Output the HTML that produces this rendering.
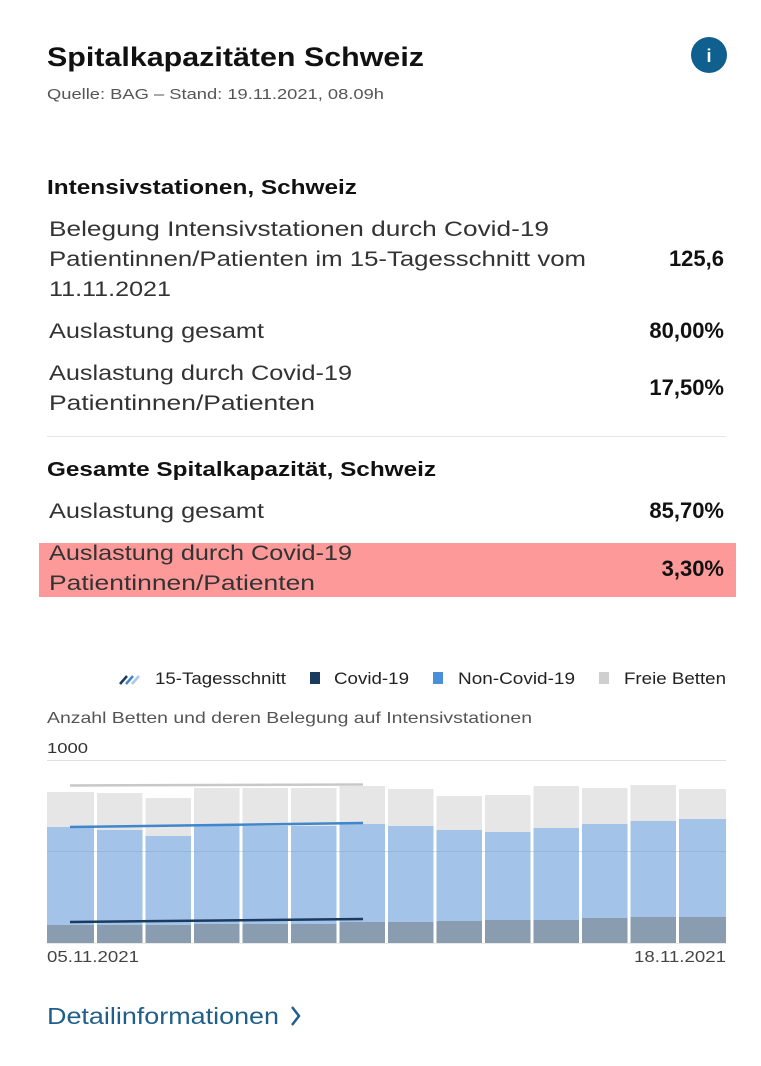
<!DOCTYPE html>
<html><head><meta charset="utf-8"><style>
html,body{margin:0;padding:0;background:#fff;}
svg{display:block;font-family:"Liberation Sans",sans-serif;}
</style></head><body>
<svg width="761" height="1066" viewBox="0 0 761 1066" xmlns="http://www.w3.org/2000/svg">
<rect width="761" height="1066" fill="#fff"/>
<text x="47" y="66" font-size="27" font-weight="bold" fill="#111" textLength="377" lengthAdjust="spacingAndGlyphs">Spitalkapazitäten Schweiz</text>
<text x="47" y="99" font-size="15" fill="#555" textLength="337" lengthAdjust="spacingAndGlyphs">Quelle: BAG – Stand: 19.11.2021, 08.09h</text>
<circle cx="709" cy="55" r="18" fill="#0f5f8f"/>
<text x="709" y="62" font-size="18" font-weight="bold" fill="#fff" text-anchor="middle">i</text>

<text x="47" y="194" font-size="20" font-weight="bold" fill="#111" textLength="310" lengthAdjust="spacingAndGlyphs">Intensivstationen, Schweiz</text>
<g font-size="21" fill="#333">
<text x="49" y="236" textLength="500" lengthAdjust="spacingAndGlyphs">Belegung Intensivstationen durch Covid-19</text>
<text x="49" y="266" textLength="537" lengthAdjust="spacingAndGlyphs">Patientinnen/Patienten im 15-Tagesschnitt vom</text>
<text x="49" y="296" textLength="122" lengthAdjust="spacingAndGlyphs">11.11.2021</text>
<text x="49" y="338" textLength="215" lengthAdjust="spacingAndGlyphs">Auslastung gesamt</text>
<text x="49" y="380" textLength="303" lengthAdjust="spacingAndGlyphs">Auslastung durch Covid-19</text>
<text x="49" y="410" textLength="266" lengthAdjust="spacingAndGlyphs">Patientinnen/Patienten</text>
</g>
<g font-size="22" font-weight="bold" fill="#111" text-anchor="end">
<text x="724" y="266">125,6</text>
<text x="724" y="338">80,00%</text>
<text x="724" y="395">17,50%</text>
</g>
<line x1="47" y1="436.5" x2="726" y2="436.5" stroke="#e5e5e5" stroke-width="1"/>
<text x="47" y="476" font-size="20" font-weight="bold" fill="#111" textLength="389" lengthAdjust="spacingAndGlyphs">Gesamte Spitalkapazität, Schweiz</text>
<rect x="39" y="543" width="697" height="54" fill="#fe9999"/>
<g font-size="21" fill="#333">
<text x="49" y="518" textLength="215" lengthAdjust="spacingAndGlyphs">Auslastung gesamt</text>
<text x="49" y="560" textLength="303" lengthAdjust="spacingAndGlyphs">Auslastung durch Covid-19</text>
<text x="49" y="590" textLength="266" lengthAdjust="spacingAndGlyphs">Patientinnen/Patienten</text>
</g>
<g font-size="22" font-weight="bold" fill="#111" text-anchor="end">
<text x="724" y="518">85,70%</text>
<text x="724" y="576">3,30%</text>
</g>

<g stroke-width="2.5">
<line x1="120" y1="684" x2="127" y2="676" stroke="#1b3b5e"/>
<line x1="126" y1="684" x2="133" y2="676" stroke="#3f86cc"/>
<line x1="132" y1="684" x2="139" y2="676" stroke="#aac8ea"/>
</g>
<g font-size="17" fill="#222">
<text x="155" y="684" textLength="131" lengthAdjust="spacingAndGlyphs">15-Tagesschnitt</text>
<rect x="310" y="672" width="10" height="12" fill="#1b3b5e"/>
<text x="334" y="684" textLength="75" lengthAdjust="spacingAndGlyphs">Covid-19</text>
<rect x="433" y="672" width="10" height="12" fill="#4a90d9"/>
<text x="458" y="684" textLength="117" lengthAdjust="spacingAndGlyphs">Non-Covid-19</text>
<rect x="599" y="672" width="10" height="12" fill="#cfcfcf"/>
<text x="624" y="684" textLength="102" lengthAdjust="spacingAndGlyphs">Freie Betten</text>
</g>
<text x="47" y="723" font-size="16" fill="#555" textLength="485" lengthAdjust="spacingAndGlyphs">Anzahl Betten und deren Belegung auf Intensivstationen</text>
<text x="47" y="753" font-size="15" fill="#333" textLength="41" lengthAdjust="spacingAndGlyphs">1000</text>
<line x1="47" y1="760.5" x2="726" y2="760.5" stroke="#e0e0e0"/>

<g id="bars"></g>
<script>
(function(){
var g=document.getElementById('bars'),ns='http://www.w3.org/2000/svg';
var tops=[792,793,798,788,788,788,786,789,796,795,786,788,785,789];
var blue=[827,830,836,826,826,826,824,826,830,832,828,824,821,819];
var dark=[925,925,925,924,924,924,922,922,921,920,920,918,917,917];
var base=943,x0=47,pitch=679/14;
function r(x,y,w,h,c){var e=document.createElementNS(ns,'rect');e.setAttribute('x',x);e.setAttribute('y',y);e.setAttribute('width',w);e.setAttribute('height',h);e.setAttribute('fill',c);g.appendChild(e);}
for(var i=0;i<14;i++){var x=x0+i*pitch+(i?1.5:0),w=pitch-(i?1.5:0)-(i<13?1.5:0);
r(x,tops[i],w,blue[i]-tops[i],'#e6e6e6');
r(x,blue[i],w,dark[i]-blue[i],'#a3c4e8');
r(x,dark[i],w,base-dark[i],'#8a9db0');}
})();
</script>
<line x1="47" y1="851.5" x2="726" y2="851.5" stroke="#7fa0c0" stroke-opacity="0.35"/>
<line x1="70" y1="785.5" x2="363" y2="784.5" stroke="#c8c8c8" stroke-width="2.5"/>
<line x1="70" y1="827" x2="363" y2="823" stroke="#3f86cc" stroke-width="2.5"/>
<line x1="70" y1="922" x2="363" y2="919" stroke="#1b3b5e" stroke-width="2.5"/>
<line x1="47" y1="943.5" x2="726" y2="943.5" stroke="#e8e8e8"/>
<text x="47" y="962" font-size="16" fill="#444" textLength="92" lengthAdjust="spacingAndGlyphs">05.11.2021</text>
<text x="634" y="962" font-size="16" fill="#444" textLength="92" lengthAdjust="spacingAndGlyphs">18.11.2021</text>

<text x="47" y="1024" font-size="23" fill="#1f5f8a" textLength="232" lengthAdjust="spacingAndGlyphs">Detailinformationen</text>
<polyline points="292,1007 299,1016 292,1025" fill="none" stroke="#1f5f8a" stroke-width="2.5"/>
</svg>
</body></html>
